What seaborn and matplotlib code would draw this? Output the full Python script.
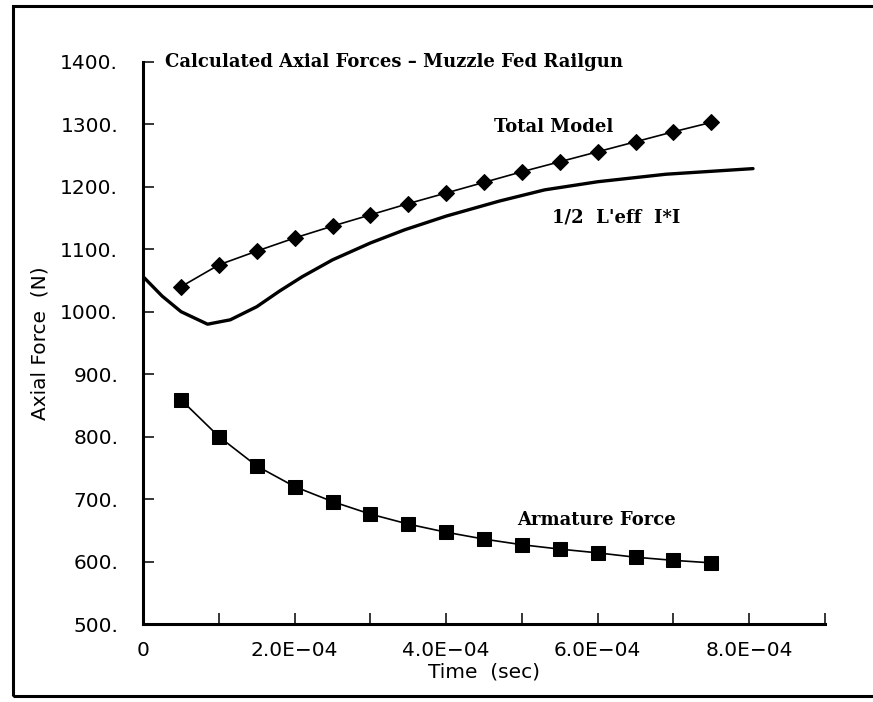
import numpy as np
import pandas as pd
import matplotlib
matplotlib.use('Agg')
import matplotlib.pyplot as plt
from matplotlib.patches import Rectangle
import seaborn as sns

# Marker series (time in sec, force in N)
t_markers = [0.5e-4, 1.0e-4, 1.5e-4, 2.0e-4, 2.5e-4, 3.0e-4, 3.5e-4, 4.0e-4,
             4.5e-4, 5.0e-4, 5.5e-4, 6.0e-4, 6.5e-4, 7.0e-4, 7.5e-4]
total_model = [1040, 1075, 1097, 1118, 1137, 1155, 1173, 1190,
               1207, 1224, 1240, 1256, 1272, 1288, 1303]
armature_force = [859, 800, 753, 720, 696, 676, 660, 647,
                  636, 627, 620, 614, 607, 602, 598]

# 1/2 L'eff I*I curve
t_curve = [0, 0.25e-4, 0.5e-4, 0.85e-4, 1.15e-4, 1.5e-4, 1.8e-4, 2.1e-4, 2.5e-4,
           3.0e-4, 3.45e-4, 4.0e-4, 4.7e-4, 5.3e-4, 6.0e-4, 6.9e-4, 8.05e-4]
half_l_ii = [1056, 1025, 1000, 980, 987, 1008, 1033, 1056, 1083,
             1110, 1131, 1153, 1177, 1195, 1208, 1220, 1229]

x_ticks = [0, 1e-4, 2e-4, 3e-4, 4e-4, 5e-4, 6e-4, 7e-4, 8e-4, 9e-4]
x_tick_labels = ['0', '', '2.0E\u221204', '', '4.0E\u221204', '', '6.0E\u221204', '', '8.0E\u221204', '']
y_ticks = [500, 600, 700, 800, 900, 1000, 1100, 1200, 1300, 1400]
y_tick_labels = ['500.', '600.', '700.', '800.', '900.', '1000.', '1100.', '1200.', '1300.', '1400.']

markers_df = pd.DataFrame({'time': t_markers, 'total': total_model, 'armature': armature_force})
curve_df = pd.DataFrame({'time': t_curve, 'force': half_l_ii})

sns.set_theme(style='ticks')
plt.rcParams['font.family'] = ['DejaVu Sans']

fig = plt.figure(figsize=(8.73, 7.02), dpi=100)
ax = fig.add_axes([0.164, 0.111, 0.781, 0.801])

sns.lineplot(data=curve_df, x='time', y='force', color='black', linewidth=2.4, ax=ax)
sns.lineplot(data=markers_df, x='time', y='total', color='black', linewidth=1.2,
             marker='D', markersize=8.5, markeredgecolor='black', ax=ax)
sns.lineplot(data=markers_df, x='time', y='armature', color='black', linewidth=1.2,
             marker='s', markersize=10.5, markeredgecolor='black', ax=ax)

ax.set_xlim(0, 9e-4)
ax.set_ylim(500, 1400)
ax.set_xticks(x_ticks)
ax.set_xticklabels(x_tick_labels)
ax.set_yticks(y_ticks)
ax.set_yticklabels(y_tick_labels)
ax.tick_params(direction='in', length=8, width=1.1, labelsize=14.5, colors='black')
ax.tick_params(axis='x', pad=12)
ax.tick_params(axis='y', pad=18)

for s in ['top', 'right']:
    ax.spines[s].set_visible(False)
for s in ['left', 'bottom']:
    ax.spines[s].set_linewidth(2.2)
    ax.spines[s].set_color('black')

ax.set_xlabel('Time  (sec)', fontsize=14.5, labelpad=2, color='black')
ax.set_ylabel('Axial Force  (N)', fontsize=14.5, labelpad=8, color='black')

label_font = dict(family='DejaVu Serif', weight='bold', fontsize=13, color='black')
ax.text(0.29e-4, 1399, 'Calculated Axial Forces \u2013 Muzzle Fed Railgun', ha='left', va='center', **label_font)
ax.text(5.42e-4, 1295, 'Total Model', ha='center', va='center', **label_font)
ax.text(6.25e-4, 1151, "1/2  L'eff  I*I", ha='center', va='center', **label_font)
ax.text(5.99e-4, 667, 'Armature Force', ha='center', va='center', **label_font)

# outer frame around the whole figure
fig.patches.append(Rectangle((0.015, 0.008), 1.2, 0.983, transform=fig.transFigure,
                             fill=False, edgecolor='black', linewidth=2.2))

fig.savefig('out.png', dpi=100)
